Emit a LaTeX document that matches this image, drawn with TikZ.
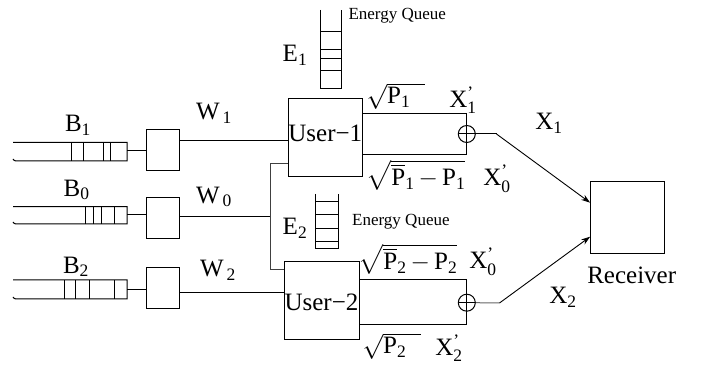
\documentclass[tikz,border=0pt]{standalone}
\usepackage{amsmath}
\usepackage{fontspec}
\setmainfont{Liberation Serif}
\usetikzlibrary{arrows.meta,calc}
\begin{document}
\begin{tikzpicture}[x=1pt,y=-1pt,line width=1pt,
  blk/.style={draw,inner sep=0pt},
  lbl/.style={font=\fontsize{25}{27}\selectfont,inner sep=0pt},
  smalllbl/.style={font=\fontsize{17}{19}\selectfont,inner sep=0pt},
  arr/.style={-{Stealth[length=9pt,width=6pt]},line width=0.9pt}]
\useasboundingbox (0,0) rectangle (702,366);
% source boxes
\node[blk,minimum width=33.3pt,minimum height=41pt] (s1) at (163.3,150.5) {};
\node[blk,minimum width=33.3pt,minimum height=41.3pt] (s0) at (163.3,218.3) {};
\node[blk,minimum width=33.3pt,minimum height=41.3pt] (s2) at (163.3,288.3) {};
% users and receiver
\node[blk,minimum width=74pt,minimum height=77.7pt] (u1) at (325.3,137.8) {};
\node[blk,minimum width=74.7pt,minimum height=78.3pt] (u2) at (321.7,300.2) {};
\node[blk,minimum width=74.3pt,minimum height=71.6pt] (rx) at (627.8,217.5) {};
\node[lbl] at (325.3,133) {User−1};
\node[lbl] at (321.5,302) {User−2};
\node[lbl] at (631.7,275) {Receiver};
% data queues
\foreach \t/\b/\dl in {142.3/161/{71,83.3,103.7,110},206.7/224/{85.7,93.3,101.7,114.3},280/299/{64.3,75,89.3,114.3}}{
  \draw (13,\t) -- (127,\t) -- (127,\b) -- (16,\b) to[out=180,in=-60] (13,{\b-2});
  \foreach \x in \dl {\draw (\x,\t) -- (\x,\b);}
}
\coordinate (q1) at (127,151);
\coordinate (q0) at (127,215);
\coordinate (q2) at (127,290);
\draw (q1) -- (s1.west |- q1);
\draw (q0) -- (s0.west |- q0);
\draw (q2) -- (s2.west |- q2);
\node[lbl] at (78,125) {B\textsubscript{1}};
\node[lbl] at (76.7,190) {B\textsubscript{0}};
\node[lbl] at (76,266.7) {B\textsubscript{2}};
% wires
\coordinate (w1) at (180,140.7);
\coordinate (w0) at (180,216.7);
\coordinate (w2) at (180,292.5);
\coordinate (tt) at (270,163.3);
\coordinate (tb) at (270,270);
\draw (w1) -- (u1.west |- w1);
\draw (w2) -- (u2.west |- w2);
\draw (w0) -- (tt |- w0);
\draw[black!75] (u1.west |- tt) -- (tt) -- (tb) -- (u2.west |- tb);
\node[lbl] at (214,113) {W\textsubscript{\,1}};
\node[lbl] at (214,197) {W\textsubscript{\,0}};
\node[lbl] at (218,270) {W\textsubscript{\,2}};
% energy queues
\draw (320,10) -- (320,88.3) -- (341.7,88.3) -- (341.7,10);
\foreach \y in {31.7,50,58.3,70.7} {\draw (320,\y) -- (341.7,\y);}
\draw (315.7,194) -- (315.7,249) -- (338.3,249) -- (338.3,194);
\foreach \y in {201.7,215,229,241.7} {\draw (315.7,\y) -- (338.3,\y);}
\node[lbl] at (295,55) {E\textsubscript{1}};
\node[lbl] at (295,228) {E\textsubscript{2}};
\node[smalllbl,anchor=west] at (348,15.7) {Energy Queue};
\node[smalllbl,anchor=west] at (351.7,221.7) {Energy Queue};
% outputs
\node[draw,circle,minimum size=17pt,inner sep=0pt] (c1) at (466.8,134) {};
\node[draw,circle,minimum size=17pt,inner sep=0pt] (c2) at (466.8,302.7) {};
\draw (c1.north) -- (c1.south) (c1.west) -- (c1.east);
\draw (c2.north) -- (c2.south) (c2.west) -- (c2.east);
\draw (u1.east |- 0,113.3) -- (466.8,113.3) -- (c1.north);
\draw (c1.south) -- (466.8,154.3) -- (u1.east |- 0,154.3);
\draw (u2.east |- 0,280) -- (466.8,280) -- (c2.north);
\draw (c2.south) -- (466.8,325) -- (u2.east |- 0,325);
\coordinate (k1) at (496.5,134);
\coordinate (k2) at (499.5,303);
\draw (c1.east) -- (k1);
\draw[black!60] (c2.east) -- (k2);
\draw[arr] (k1) -- (rx.west |- 0,202.7);
\draw[arr] (k2) -- (rx.west |- 0,236.7);
\node[lbl] at (549,123) {X\textsubscript{1}};
\node[lbl] at (563,297) {X\textsubscript{2}};
% power labels
\node[lbl,anchor=west] at (366,96) {$\sqrt{\text{P}_{\text{1}}\hspace{15pt}}$};
\node[lbl] at (463,100) {X$^{\text{’}}_{\text{1}}$};
\node[lbl,anchor=west] at (366,175) {$\sqrt{\overline{\text{P}}_{\text{1}}\,{-}\,\text{P}_{\text{1}}}$};
\node[lbl] at (497,179) {X$^{\text{’}}_{\text{0}}$};
\node[lbl,anchor=west] at (358,259) {$\sqrt{\overline{\text{P}}_{\text{2}}\,{-}\,\text{P}_{\text{2}}}$};
\node[lbl] at (483,262) {X$^{\text{’}}_{\text{0}}$};
\node[lbl,anchor=west] at (362,346) {$\sqrt{\text{P}_{\text{2}}\hspace{15pt}}$};
\node[lbl] at (449,348) {X$^{\text{’}}_{\text{2}}$};
\end{tikzpicture}
\end{document}
